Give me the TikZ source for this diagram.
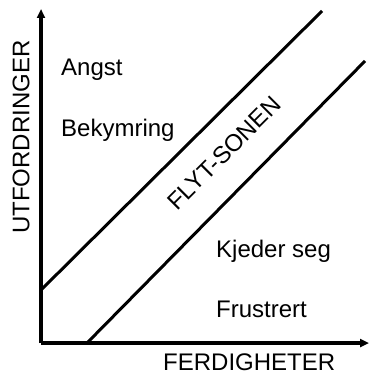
\documentclass[tikz,border=0pt]{standalone}
\usepackage{fontspec}
\setmainfont{Liberation Sans}
\usetikzlibrary{arrows.meta}
\begin{document}
\begin{tikzpicture}[x=1pt,y=-1pt,
  axis/.style={line width=3.2pt,-{Triangle[length=9pt,width=8pt]}},
  zoneline/.style={line width=3pt},
  lbl/.style={inner sep=0pt,anchor=base west,font=\fontsize{24}{28}\selectfont}]
\useasboundingbox (0,0) rectangle (369,374);
\coordinate (o) at (41,343);
\coordinate (ytop) at (41,9);
\coordinate (xend) at (369,343);
\draw[axis] (o) -- (ytop);
\draw[axis] (o) -- (xend);
\coordinate (u1) at (41,290);
\coordinate (u2) at (322,11);
\coordinate (l1) at (87,343);
\coordinate (l2) at (365,61);
\draw[zoneline] (u1) -- (u2);
\draw[zoneline] (l1) -- (l2);
\node[lbl] (angst) at (61,76) {Angst};
\node[lbl] (bek) at (61,137) {Bekymring};
\node[lbl] (kjed) at (216,257) {Kjeder seg};
\node[lbl] (frus) at (216,317) {Frustrert};
\node[lbl] (ferd) at (163,370) {FERDIGHETER};
\node[inner sep=0pt,rotate=90,font=\fontsize{24}{28}\selectfont] (utf) at (21,137) {UTFORDRINGER};
\node[inner sep=0pt,rotate=45,font=\fontsize{24}{28}\selectfont] (flyt) at (224,153) {FLYT-SONEN};
\end{tikzpicture}
\end{document}
